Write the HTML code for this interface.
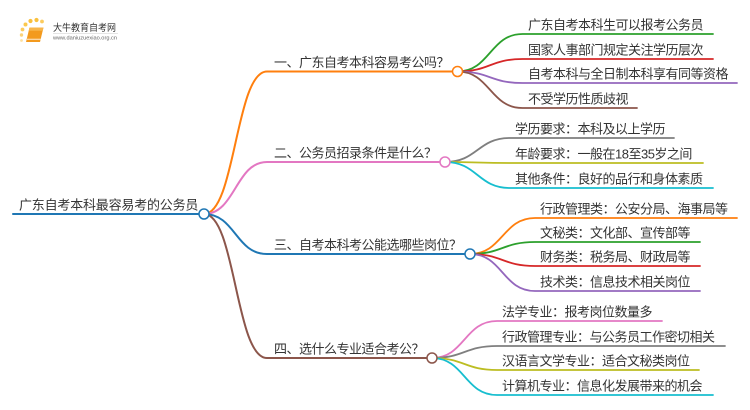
<!DOCTYPE html>
<html>
<head>
<meta charset="utf-8">
<style>
html,body{margin:0;padding:0;background:#fff;}
svg{display:block;}
text{font-family:"Liberation Sans","Noto Sans CJK SC",sans-serif;}
</style>
</head>
<body>
<svg width="750" height="410" viewBox="0 0 750 410" xmlns="http://www.w3.org/2000/svg">
<rect width="750" height="410" fill="#fff"/>

<!-- logo -->
<g>
  <circle cx="21.5" cy="35" r="1.7" fill="#fbd27a"/>
  <circle cx="22.5" cy="29.5" r="1.9" fill="#fbcb5e"/>
  <circle cx="25.5" cy="24.5" r="2" fill="#fbc84e"/>
  <circle cx="30.5" cy="21" r="2.1" fill="#f9c03e"/>
  <circle cx="36.5" cy="20" r="2.1" fill="#f9c03e"/>
  <circle cx="42" cy="21.5" r="1.9" fill="#fbcb5e"/>
  <circle cx="21.5" cy="40.5" r="1.4" fill="#fde0a0"/>
  <path d="M29.5 27.5 L43.5 27.5 L40 42 L26 42 Z" fill="#f39a1e"/>
  <path d="M29.5 27.5 L43.5 27.5 L42.7 30.8 L28.7 30.8 Z" fill="#f7b54a"/>
  <path d="M27 39.2 L40.5 39.2" stroke="#fff" stroke-width="0.8"/>
  <text x="53" y="31" font-size="9.5" fill="#333" textLength="63" lengthAdjust="spacingAndGlyphs">大牛教育自考网</text>
  <line x1="53" y1="33.5" x2="118" y2="33.5" stroke="#ccc" stroke-width="0.6"/>
  <text x="53" y="39.5" font-size="5.8" fill="#666" textLength="64" lengthAdjust="spacingAndGlyphs">www.daniuzuexiao.org.cn</text>
</g>

<g fill="none" stroke-width="2" stroke-linecap="round">
  <path d="M13 214 H204" stroke="#1f77b4"/>
  <path d="M204 214 C235.5 214 235.5 71.5 267 71.5 H457.5" stroke="#ff7f0e"/>
  <path d="M204 214 C235.5 214 235.5 162 267 162 H445" stroke="#e377c2"/>
  <path d="M204 214 C235.5 214 235.5 254 267 254 H470" stroke="#1f77b4"/>
  <path d="M204 214 C235.5 214 235.5 358 267 358 H432" stroke="#8c564b"/>
</g>

<g fill="none" stroke-width="1.8" stroke-linecap="round">
  <path d="M457.5 71.5 C490 71.5 490 34 522.5 34 H713" stroke="#2ca02c"/>
  <path d="M457.5 71.5 C490 71.5 490 59 522.5 59 H713" stroke="#d62728"/>
  <path d="M457.5 71.5 C490 71.5 490 83 522.5 83 H737" stroke="#9467bd"/>
  <path d="M457.5 71.5 C490 71.5 490 108 522.5 108 H637" stroke="#8c564b"/>
  <path d="M445 162 C477.5 162 477.5 138 510 138 H674" stroke="#7f7f7f"/>
  <path d="M445 162 C477.5 162 477.5 163 510 163 H703" stroke="#bcbd22"/>
  <path d="M445 162 C477.5 162 477.5 188 510 188 H713" stroke="#17becf"/>
  <path d="M470 254 C502.5 254 502.5 218 535 218 H737" stroke="#ff7f0e"/>
  <path d="M470 254 C502.5 254 502.5 242 535 242 H700" stroke="#2ca02c"/>
  <path d="M470 254 C502.5 254 502.5 266 535 266 H700" stroke="#d62728"/>
  <path d="M470 254 C502.5 254 502.5 291 535 291 H700" stroke="#9467bd"/>
  <path d="M432 358 C464.5 358 464.5 321 497 321 H662" stroke="#e377c2"/>
  <path d="M432 358 C464.5 358 464.5 346 497 346 H725" stroke="#7f7f7f"/>
  <path d="M432 358 C464.5 358 464.5 370 497 370 H699" stroke="#bcbd22"/>
  <path d="M432 358 C464.5 358 464.5 395 497 395 H713" stroke="#17becf"/>
</g>

<g fill="#fff" stroke-width="1.5">
  <circle cx="204" cy="214" r="5" stroke="#1f77b4"/>
  <circle cx="457.5" cy="71.5" r="5" stroke="#ff7f0e"/>
  <circle cx="445" cy="162" r="5" stroke="#e377c2"/>
  <circle cx="470" cy="254" r="5" stroke="#1f77b4"/>
  <circle cx="432" cy="358" r="5" stroke="#8c564b"/>
</g>

<g font-size="13" letter-spacing="-0.5" fill="#333">
  <text x="19" y="209.5" letter-spacing="-0.2">广东自考本科最容易考的公务员</text>

  <text x="274" y="67">一、广东自考本科容易考公吗？</text>
  <text x="274" y="157.5">二、公务员招录条件是什么？</text>
  <text x="274" y="249.5">三、自考本科考公能选哪些岗位？</text>
  <text x="274" y="353.5">四、选什么专业适合考公？</text>

  <text x="528" y="29.5">广东自考本科生可以报考公务员</text>
  <text x="528" y="54.5">国家人事部门规定关注学历层次</text>
  <text x="528" y="78.5">自考本科与全日制本科享有同等资格</text>
  <text x="528" y="103.5">不受学历性质歧视</text>

  <text x="515" y="133.5">学历要求：本科及以上学历</text>
  <text x="515" y="158.5">年龄要求：一般在18至35岁之间</text>
  <text x="515" y="183.5">其他条件：良好的品行和身体素质</text>

  <text x="540" y="213.5">行政管理类：公安分局、海事局等</text>
  <text x="540" y="237.5">文秘类：文化部、宣传部等</text>
  <text x="540" y="261.5">财务类：税务局、财政局等</text>
  <text x="540" y="286.5">技术类：信息技术相关岗位</text>

  <text x="502" y="316.5">法学专业：报考岗位数量多</text>
  <text x="502" y="341.5">行政管理专业：与公务员工作密切相关</text>
  <text x="502" y="365.5">汉语言文学专业：适合文秘类岗位</text>
  <text x="502" y="390.5">计算机专业：信息化发展带来的机会</text>
</g>
</svg>
</body>
</html>
